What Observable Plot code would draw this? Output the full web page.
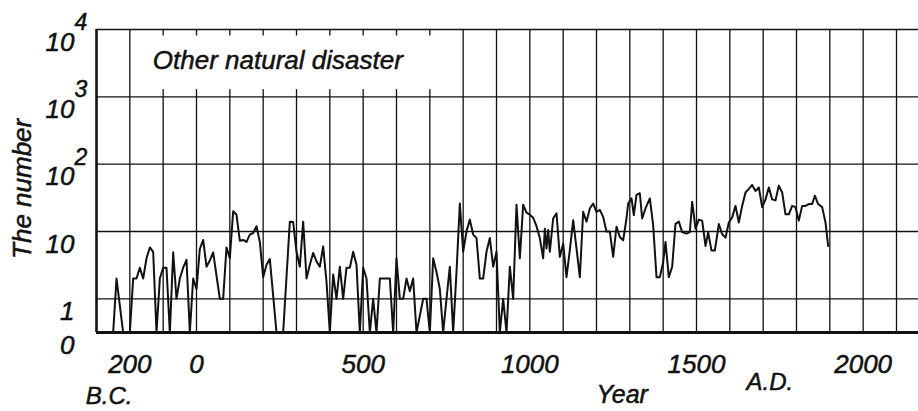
<!DOCTYPE html>
<html>
<head>
<meta charset="utf-8">
<script src="https://cdn.jsdelivr.net/npm/d3@7"></script>
<script src="https://cdn.jsdelivr.net/npm/@observablehq/plot@0.6"></script>
<style>
  html, body { margin: 0; padding: 0; background: white; }
  #chart svg { display: block; }
</style>
</head>
<body>
<div id="chart"></div>
<script>
// ---- data ----
const years = [
  -250,-240,-220,-200,-190,-180,-170,-160,-150,-140,-130,-120,-110,-100,-90,-80,-70,-60,-50,-40,-30,-20,-10,0,
  10,20,30,40,50,70,80,90,100,110,120,130,140,150,160,170,180,190,200,210,220,240,260,280,290,300,
  310,320,330,340,350,360,370,380,390,400,410,420,430,440,450,460,470,480,490,500,
  510,520,530,540,550,560,570,580,590,600,610,620,630,640,650,660,680,690,700,
  710,720,730,740,750,760,770,780,790,800,810,820,830,840,850,860,870,880,890,900,
  910,920,930,940,950,960,970,980,990,1000,1010,1020,1030,1040,1045,1050,1055,1060,1070,1080,1090,1100,
  1110,1120,1130,1140,1150,1160,1170,1180,1190,1200,1210,1220,1230,1240,1250,1260,1270,1280,1290,1295,
  1305,1312,1320,1330,1337,1347,1360,1370,1380,1390,1400,1407,1417,1427,1437,1447,1457,1470,1480,1487,1497,
  1507,1517,1527,1535,1545,1555,1567,1577,1587,1597,1607,1617,1627,1637,1647,1657,1667,1677,1687,1697,
  1707,1717,1727,1737,1747,1757,1767,1777,1787,1797,1807,1817,1827,1837,1847,1855,1865,1877,1887,1895
];
const counts = [
  0,2,0,0,2,2,2.9,2,4,5.8,5,0,2,2.9,2.9,0,4.9,1,2,2.9,3.8,0,2,1.4,
  5.5,7.5,3,3.7,4.9,1,1,5.8,4,20,17.7,7.3,7.5,7,9,9.5,12,7,2.1,3.2,3.9,0,0,14,13.8,5,
  3,14,2,3.2,4.8,3.6,3,6,1.8,0,2.3,1,3,1,2.9,2.9,5,3.2,0,2.9,
  2,0,1,0,2,2,2,2,0,4,1,1,2,1.3,2,0,1,1,0,
  4,2.5,1.4,0,1,3,0,2.5,26,5,10,15,9,8,2,2,5,8,3,5,
  0,1,0,3,1,25,4,25,19,17.8,16,12,8,4,11,5.6,10.5,5,15.6,18.6,4.2,6.6,
  2.1,5.3,14.7,5.6,2.1,19.6,14,22,26,19.6,21,16.5,10,10,4.2,11.8,8.3,7.4,15.6,26,
  31,17.5,35,37,15.6,22,31,12.4,2.1,2.1,3.5,7,2.1,3,13,14,9.8,9.3,9.8,27.7,11,
  15,14.5,6.1,9.7,5.2,5.2,12.9,9.1,8.1,13.6,16.2,24,13.6,24,38,43,49,40,45,23,
  30,45,30,29,48,38,18,18,24,23,14.5,24,24,25.6,25.6,34,25.6,23,13.6,6.1
];

// tick labels
const ZERO = Math.pow(10, -0.5);           // where "0" sits on the log axis
const yTickValues = [ZERO, 1, 10, 100, 1000, 10000];
const yTickBase   = ["0", "1", "10", "10", "10", "10"];
const yTickExp    = ["", "", "", "2", "3", "4"];
const yGrid = [1, 10, 100, 1000, 10000];
const xTickValues = [-200, 0, 500, 1000, 1500, 2000];
const xTickLabels = ["200", "0", "500", "1000", "1500", "2000"];
const xGrid = d3.range(-200, 2200, 100);

const title = "Other natural disaster";
const yTitle = "The number";
const noteBC = "B.C.", noteYear = "Year", noteAD = "A.D.";

// ---- build ----
const series = years.map((y, i) => ({year: y, n: counts[i]}));
const yTicks = yTickValues.map((v, i) => ({v, base: yTickBase[i], exp: yTickExp[i]}));
const xTicks = xTickValues.map((v, i) => ({v, label: xTickLabels[i]}));

const FONT = "Liberation Sans, Arial, sans-serif";
const ink = "#111";
const txt = {fontStyle: "italic", fontFamily: FONT, fill: ink, stroke: ink, strokeWidth: 0.5, lineAnchor: "middle"};

const chart = Plot.plot({
  width: 918,
  height: 411,
  marginLeft: 96,
  marginRight: 0,
  marginTop: 29,
  marginBottom: 79,
  x: {type: "linear", domain: [-300, 2166], axis: null},
  y: {type: "log", domain: [ZERO, 10000], axis: null},
  style: {fontFamily: FONT, background: "white"},
  marks: [
    Plot.gridX(xGrid, {stroke: ink, strokeOpacity: 1, strokeWidth: 1.3}),
    Plot.gridY(yGrid, {stroke: ink, strokeOpacity: 1, strokeWidth: 1.4}),
    // white box behind the panel title
    Plot.rect([{x1: -190, x2: 750, y1: 1280, y2: 8000}], {x1: "x1", x2: "x2", y1: "y1", y2: "y2", fill: "white"}),
    Plot.ruleX([-300], {stroke: ink, strokeWidth: 2.6}),
    Plot.ruleY([ZERO], {stroke: ink, strokeWidth: 2.8}),
    Plot.line(series, {x: "year", y: d => d.n === 0 ? ZERO : d.n, stroke: ink, strokeWidth: 2, strokeLinejoin: "round"}),
    // title
    Plot.text([title], {x: -131, y: 3400, text: d => d, textAnchor: "start", fontSize: 26, ...txt}),
    // y tick labels
    Plot.text(yTicks, {y: "v", text: "base", frameAnchor: "left", textAnchor: "end", dx: -22, dy: 13, fontSize: 26, ...txt}),
    Plot.text(yTicks, {y: "v", text: "exp", frameAnchor: "left", textAnchor: "start", dx: -22, dy: -7, fontSize: 23, ...txt}),
    // x tick labels
    Plot.text(xTicks, {x: "v", text: "label", frameAnchor: "bottom", dy: 32, fontSize: 26, ...txt}),
    // annotations
    Plot.text([noteBC], {x: -262, text: d => d, frameAnchor: "bottom", dy: 64, fontSize: 24, ...txt}),
    Plot.text([noteYear], {x: 1277, text: d => d, frameAnchor: "bottom", dy: 62, fontSize: 25, ...txt}),
    Plot.text([noteAD], {x: 1720, text: d => d, frameAnchor: "bottom", dy: 50, fontSize: 24, ...txt}),
    // y axis title
    Plot.text([{label: yTitle, x: -520, y: 43}], {x: "x", y: "y", text: "label", rotate: -90, fontSize: 26, ...txt})
  ]
});
document.getElementById("chart").appendChild(chart);
</script>
</body>
</html>
